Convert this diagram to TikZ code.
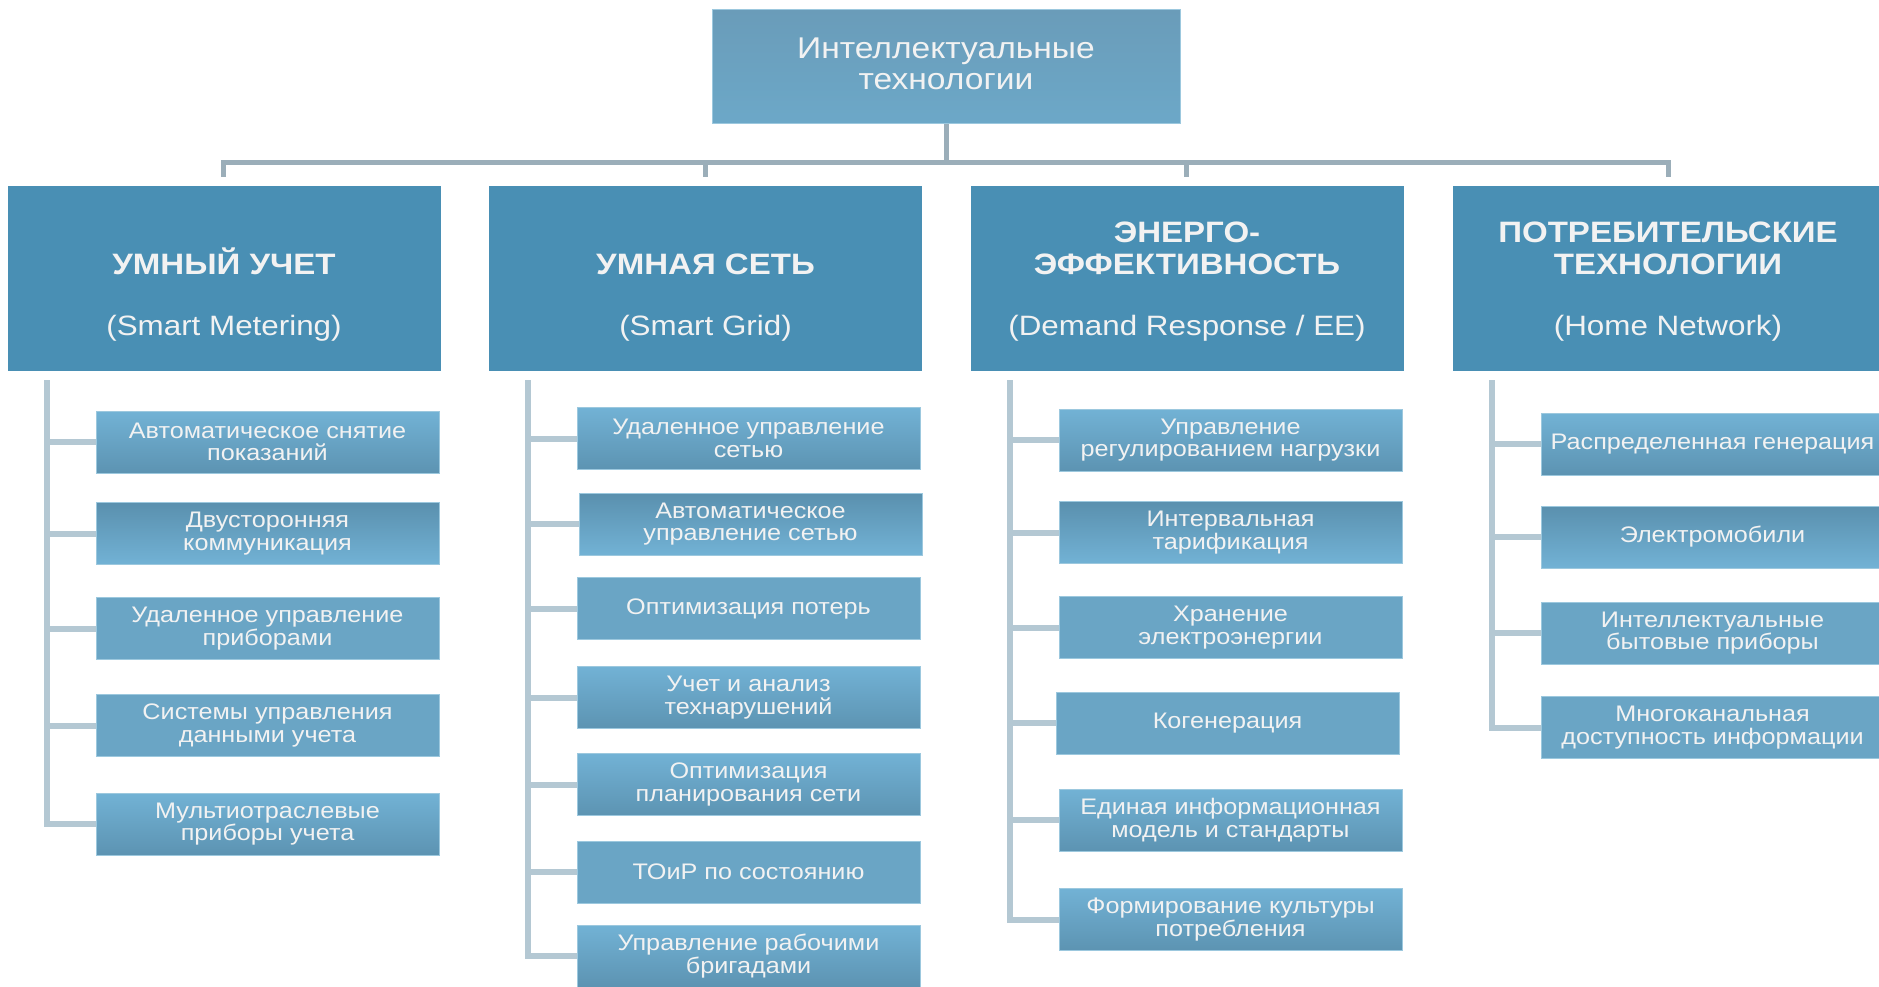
\documentclass[tikz,border=0pt]{standalone}
\usepackage{fontspec}
\setmainfont{Liberation Sans}[FakeStretch=1.12]
\definecolor{hdrfill}{HTML}{498FB4}
\definecolor{txt}{HTML}{F2F2F2}
\definecolor{edge}{HTML}{9CC8DE}
\definecolor{busc}{HTML}{9BAEB9}
\definecolor{connc}{HTML}{B4C8D3}
\definecolor{cLight}{HTML}{72B2D5}
\definecolor{cDark}{HTML}{5A90AE}
\definecolor{cMidD}{HTML}{4E84A1}
\definecolor{cMidL}{HTML}{6AA5C5}
\definecolor{topA}{HTML}{6A9CB9}
\definecolor{topM}{HTML}{5587A3}
\definecolor{topB}{HTML}{6CA8C8}
\tikzset{
  kid/.style={rectangle, minimum width=343pt, minimum height=62pt, inner sep=0pt,
    align=center, text=txt, font=\fontsize{22.5}{22.5}\selectfont, draw=edge, line width=1pt},
  shA/.style={top color=cDark, bottom color=cLight},
  shB/.style={top color=cLight, bottom color=cDark!90!cLight},
  shC/.style={top color=cMidL, middle color=cMidD, bottom color=cMidL},
  hdr/.style={rectangle, fill=hdrfill, minimum width=433pt, minimum height=185pt, inner sep=0pt},
  htitle/.style={text=txt, font=\fontsize{29.5}{32}\selectfont\bfseries, inner sep=0pt, anchor=base},
  hsub/.style={text=txt, font=\fontsize{28}{30}\selectfont, inner sep=0pt, anchor=base},
  toptxt/.style={text=txt, font=\fontsize{30}{31}\selectfont, inner sep=0pt, anchor=base},
  busline/.style={draw=busc, line width=5pt},
  conn/.style={draw=connc, line width=6pt},
}
\begin{document}
\begin{tikzpicture}[x=1pt,y=-1pt]
\useasboundingbox (0,0) rectangle (1879,987);
\fill[white] (0,0) rectangle (1879,987);

% top box
\node[rectangle, minimum width=468pt, minimum height=114pt, inner sep=0pt,
  top color=topA, middle color=topM, bottom color=topB, draw=edge, line width=1pt] (top) at (946,67) {};
\node[toptxt] (topt1) at (946,59) {Интеллектуальные};
\node[toptxt] (topt2) at (946,90) {технологии};

% bus
\coordinate (j0) at (946,163);
\coordinate (d1) at (223,177);
\coordinate (d2) at (705,177);
\coordinate (d3) at (1186,177);
\coordinate (d4) at (1668,177);
\draw[busline] (top.south) -- (j0);
\draw[busline] (d1) -- (d1 |- j0) -- (d4 |- j0) -- (d4);
\draw[busline] (d2) -- (d2 |- j0);
\draw[busline] (d3) -- (d3 |- j0);

% headers
\node[hdr] (h1) at (224,278.5) {};
\node[hdr] (h2) at (705.5,278.5) {};
\node[hdr] (h3) at (1187,278.5) {};
\node[hdr] (h4) at (1669.5,278.5) {};
\node[htitle] (h1t) at (224,274) {УМНЫЙ УЧЕТ};
\node[hsub] (h1s) at (224,335) {(Smart Metering)};
\node[htitle] (h2t) at (705.5,274) {УМНАЯ СЕТЬ};
\node[hsub] (h2s) at (705.5,335) {(Smart Grid)};
\node[htitle] (h3t) at (1187,243) {ЭНЕРГО-};
\node[htitle] (h3u) at (1187,274) {ЭФФЕКТИВНОСТЬ};
\node[hsub] (h3s) at (1187,335) {(Demand Response / EE)};
\node[htitle] (h4t) at (1668,243) {ПОТРЕБИТЕЛЬСКИЕ};
\node[htitle] (h4u) at (1668,274) {ТЕХНОЛОГИИ};
\node[hsub] (h4s) at (1668,335) {(Home Network)};

% column trunks
\coordinate (v1) at (47,380);
\coordinate (v2) at (528,380);
\coordinate (v3) at (1010,380);
\coordinate (v4) at (1492,380);

% column 1
\node[kid,shB] (b11) at (267.5,442) {Автоматическое снятие\\показаний};
\node[kid,shA] (b12) at (267.5,533.5) {Двусторонняя\\коммуникация};
\node[kid,shC] (b13) at (267.5,628.5) {Удаленное управление\\приборами};
\node[kid,shC] (b14) at (267.5,725.5) {Системы управления\\данными учета};
\node[kid,shB] (b15) at (267.5,824) {Мультиотраслевые\\приборы учета};

% column 2
\node[kid,shB] (b21) at (748.5,438.5) {Удаленное управление\\сетью};
\node[kid,shA] (b22) at (750.5,524) {Автоматическое\\управление сетью};
\node[kid,shC] (b23) at (748.5,608.5) {Оптимизация потерь};
\node[kid,shB] (b24) at (748.5,697.5) {Учет и анализ\\технарушений};
\node[kid,shB] (b25) at (748.5,784.5) {Оптимизация\\планирования сети};
\node[kid,shC] (b26) at (748.5,872) {ТОиР по состоянию};
\node[kid,shB] (b27) at (748.5,956) {Управление рабочими\\бригадами};

% column 3
\node[kid,shB] (b31) at (1230.5,440) {Управление\\регулированием нагрузки};
\node[kid,shA] (b32) at (1230.5,532.5) {Интервальная\\тарификация};
\node[kid,shC] (b33) at (1230.5,627.5) {Хранение\\электроэнергии};
\node[kid,shC] (b34) at (1227.5,723) {Когенерация};
\node[kid,shB] (b35) at (1230.5,820) {Единая информационная\\модель и стандарты};
\node[kid,shB] (b36) at (1230.5,919.5) {Формирование культуры\\потребления};

% column 4
\node[kid,shB] (b41) at (1712.5,444) {Распределенная генерация};
\node[kid,shA] (b42) at (1712.5,537) {Электромобили};
\node[kid,shC] (b43) at (1712.5,633) {Интеллектуальные\\бытовые приборы};
\node[kid,shC] (b44) at (1712.5,727.5) {Многоканальная\\доступность информации};

% connectors
\foreach \b in {b11,b12,b13,b14,b15}{\draw[conn] (v1) |- (\b.west);}
\foreach \b in {b21,b22,b23,b24,b25,b26,b27}{\draw[conn] (v2) |- (\b.west);}
\foreach \b in {b31,b32,b33,b34,b35,b36}{\draw[conn] (v3) |- (\b.west);}
\foreach \b in {b41,b42,b43,b44}{\draw[conn] (v4) |- (\b.west);}
\end{tikzpicture}
\end{document}
